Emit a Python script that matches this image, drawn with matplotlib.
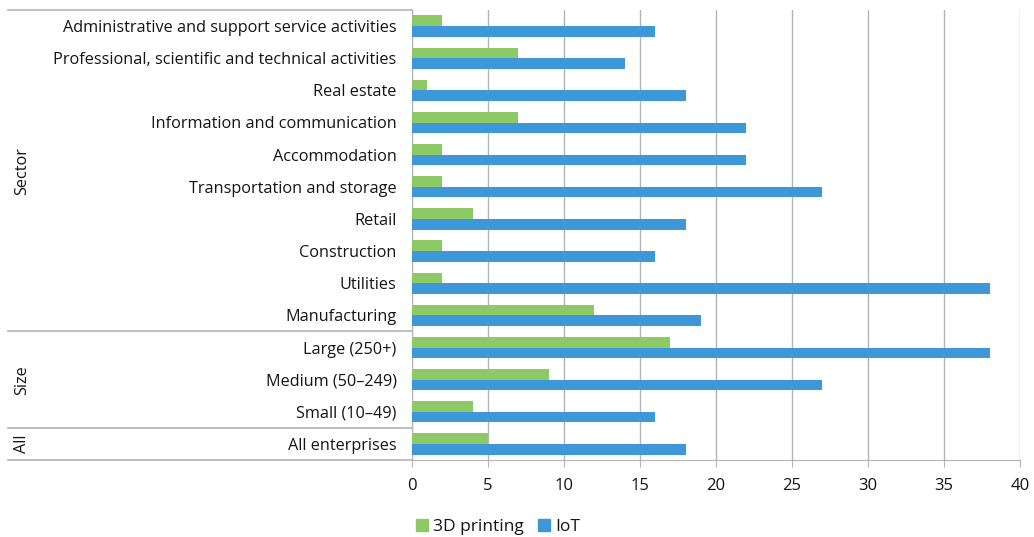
import matplotlib
matplotlib.use("Agg")
import matplotlib.pyplot as plt
import numpy as np
from matplotlib.patches import Patch

categories = [
    "Administrative and support service activities",
    "Professional, scientific and technical activities",
    "Real estate",
    "Information and communication",
    "Accommodation",
    "Transportation and storage",
    "Retail",
    "Construction",
    "Utilities",
    "Manufacturing",
    "Large (250+)",
    "Medium (50\u2013249)",
    "Small (10\u201349)",
    "All enterprises",
]
printing_3d = [2, 7, 1, 7, 2, 2, 4, 2, 2, 12, 17, 9, 4, 5]
iot = [16, 14, 18, 22, 22, 27, 18, 16, 38, 19, 38, 27, 16, 18]
groups = [("Sector", 0, 9), ("Size", 10, 12), ("All", 13, 13)]
xticks = [0, 5, 10, 15, 20, 25, 30, 35, 40]

GREEN = "#8dc965"
BLUE = "#3e97d7"
GRID = "#b4b4b4"
TEXT = "#141414"

plt.rcParams['font.family'] = ['Open Sans', 'DejaVu Sans']

fig = plt.figure(figsize=(10.34, 5.37), dpi=100)
ax = fig.add_axes([412/1034, 1-460/537, 608/1034, 450/537])

y = np.arange(len(categories))
h = 0.33
ax.barh(y - h/2, printing_3d, height=h, color=GREEN, zorder=3)
ax.barh(y + h/2, iot, height=h, color=BLUE, zorder=3)

ax.set_ylim(len(categories) - 0.5, -0.5)
ax.set_xlim(0, 40)
ax.set_xticks(xticks)
ax.set_xticklabels([str(t) for t in xticks], fontsize=12, color=TEXT)
ax.set_yticks(y)
ax.set_yticklabels(categories, fontsize=11.7, color=TEXT)
ax.tick_params(axis='y', length=0, pad=11)
ax.tick_params(axis='x', length=5, color=GRID, pad=8)

for s in ['top', 'right']:
    ax.spines[s].set_visible(False)
ax.spines['left'].set_color(GRID)
ax.spines['bottom'].set_color(GRID)
ax.xaxis.grid(True, color=GRID, linewidth=1)
ax.set_axisbelow(True)

# group separators and labels
trans = ax.get_yaxis_transform()
x_left = (8 - 412) / 608
for b in [-0.5, 9.5, 12.5, 13.5]:
    ax.plot([x_left, 0], [b, b], transform=trans, color=GRID, lw=1.2, clip_on=False)
x_lab = (22 - 412) / 608
for name, a, bb in groups:
    ax.text(x_lab, (a + bb) / 2, name, transform=trans, rotation=90,
            ha='center', va='center', fontsize=11.7, color=TEXT)

handles = [Patch(color=GREEN, label="3D printing"), Patch(color=BLUE, label="IoT")]
fig.legend(handles=handles, loc='center left', bbox_to_anchor=(400/1034, 1-527/537),
           ncol=2, frameon=False, fontsize=12.5, handlelength=0.7, handleheight=0.7,
           columnspacing=0.8, handletextpad=0.3, labelcolor=TEXT)

fig.savefig("out.png", dpi=100)
